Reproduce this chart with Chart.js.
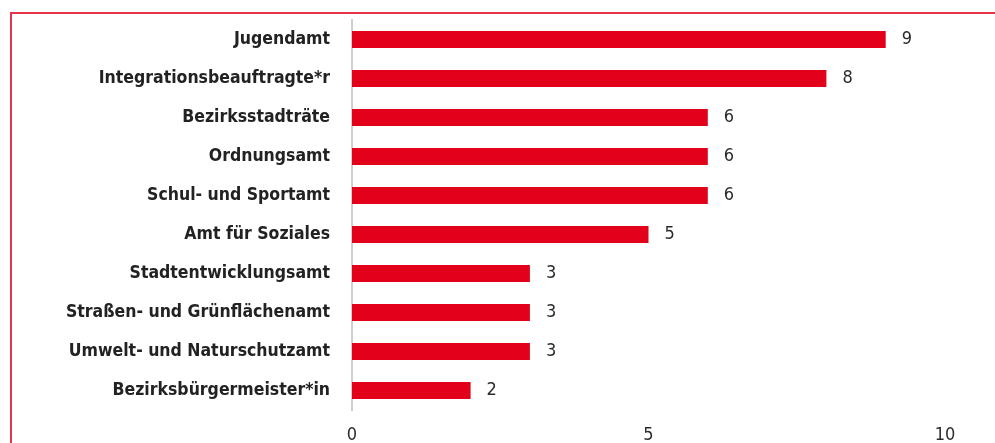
<!DOCTYPE html>
<html>
<head>
<meta charset="utf-8">
<script src="https://cdn.jsdelivr.net/npm/chart.js@4/dist/chart.umd.min.js"></script>
<style>
  html, body { margin: 0; padding: 0; background: #fff; overflow: hidden; }
  #wrap { position: relative; width: 995px; height: 443px; }
  #frame {
    position: absolute; left: 10px; top: 12px; width: 2000px; height: 2000px;
    border-left: 2px solid #e8334a; border-top: 2px solid #e8334a;
  }
  canvas { position: absolute; left: 0; top: 0; }
</style>
</head>
<body>
<div id="wrap">
  <div id="frame"></div>
  <canvas id="chart-canvas" width="995" height="443"></canvas>
</div>
<script>
const labels = [
  'Jugendamt',
  'Integrationsbeauftragte*r',
  'Bezirksstadträte',
  'Ordnungsamt',
  'Schul- und Sportamt',
  'Amt für Soziales',
  'Stadtentwicklungsamt',
  'Straßen- und Grünflächenamt',
  'Umwelt- und Naturschutzamt',
  'Bezirksbürgermeister*in'
]
const values = [9, 8, 6, 6, 6, 5, 3, 3, 3, 2]
const xTicks = [0, 5, 10]

// numbers right of each bar
const valueLabels = {
  id: 'valueLabels',
  afterDatasetsDraw (chart) {
    const ctx = chart.ctx
    const meta = chart.getDatasetMeta(0)
    ctx.save()
    ctx.font = '18px "DejaVu Sans Condensed", sans-serif'
    ctx.fillStyle = '#2b2b2b'
    ctx.textAlign = 'left'
    ctx.textBaseline = 'middle'
    meta.data.forEach((bar, i) => {
      ctx.fillText(String(values[i]), bar.x + 16, bar.y)
    })
    ctx.restore()
  }
}

const ctx = document.getElementById('chart-canvas')
new Chart(ctx, {
  type: 'bar',
  data: {
    labels: labels,
    datasets: [{
      data: values,
      backgroundColor: '#e3001b',
      borderWidth: 0,
      barPercentage: 0.43,
      categoryPercentage: 1
    }]
  },
  options: {
    indexAxis: 'y',
    animation: false,
    responsive: false,
    devicePixelRatio: 1,
    layout: {
      padding: { top: 20, right: 50, left: 0, bottom: 0 }
    },
    plugins: {
      legend: { display: false },
      tooltip: { enabled: false }
    },
    scales: {
      y: {
        afterFit: function (scale) {
          scale.width = 352
          // tick padding would otherwise push the plot area down
          scale.paddingTop = 0
          scale.paddingBottom = 0
        },
        grid: { display: false, drawTicks: false },
        border: { display: true, color: '#cfcfcf', width: 2 },
        ticks: {
          padding: 22,
          color: '#222',
          font: { family: '"DejaVu Sans Condensed", sans-serif', size: 17.5, weight: 'bold' }
        }
      },
      x: {
        min: 0,
        max: 10,
        afterFit: function (scale) { scale.height = 33 },
        afterBuildTicks: function (scale) {
          scale.ticks = xTicks.map(v => ({ value: v }))
        },
        grid: { display: false, drawTicks: false },
        border: { display: false },
        ticks: {
          padding: 15,
          color: '#2b2b2b',
          maxRotation: 0,
          font: { family: '"DejaVu Sans Condensed", sans-serif', size: 18 }
        }
      }
    }
  },
  plugins: [valueLabels]
})
</script>
</body>
</html>
